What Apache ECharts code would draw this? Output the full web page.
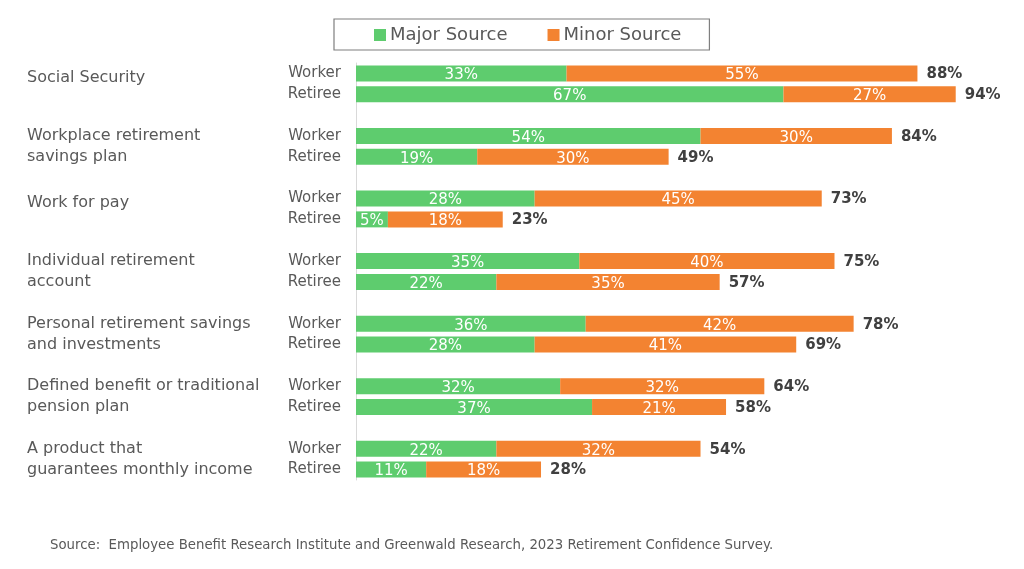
<!DOCTYPE html>
<html>
<head>
<meta charset="utf-8">
<script src="https://cdn.jsdelivr.net/npm/echarts@6/dist/echarts.min.js"></script>
<style>
  html, body { margin: 0; padding: 0; background: #fff; }
  #chart { width: 1024px; height: 569px; }
</style>
</head>
<body>
<div id="chart"></div>
<script>
const groups = [
  'Social Security',
  'Workplace retirement\nsavings plan',
  'Work for pay',
  'Individual retirement\naccount',
  'Personal retirement savings\nand investments',
  'Defined benefit or traditional\npension plan',
  'A product that\nguarantees monthly income'
];
const rowNames = ['Worker', 'Retiree'];
const workerMajor = [33, 54, 28, 35, 36, 32, 22];
const workerMinor = [55, 30, 45, 40, 42, 32, 32];
const workerTotal = [88, 84, 73, 75, 78, 64, 54];
const retireeMajor = [67, 19, 5, 22, 28, 37, 11];
const retireeMinor = [27, 30, 18, 35, 41, 21, 18];
const retireeTotal = [94, 49, 23, 57, 69, 58, 28];

const GREEN = '#5ECC6E';
const ORANGE = '#F38331';
const GRAY = '#595959';
const FONT = 'DejaVu Sans';

// one row per Worker / Retiree, one blank row between groups
const cats = [], major = [], minor = [], total = [], ends = [];
groups.forEach((g, i) => {
  cats.push(rowNames[0], rowNames[1]);
  major.push(workerMajor[i], retireeMajor[i]);
  minor.push(workerMinor[i], retireeMinor[i]);
  total.push(workerTotal[i], retireeTotal[i]);
  ends.push(0, 0);
  if (i < groups.length - 1) {
    cats.push('');
    major.push('-');
    minor.push('-');
    total.push('-');
    ends.push('-');
  }
});

const slot = 417 / cats.length * 3;

const chart = echarts.init(document.getElementById('chart'));

const inLabel = {
  show: true,
  position: 'inside',
  color: '#fff',
  fontFamily: FONT,
  fontSize: 15,
  offset: [0, 2],
  formatter: (p) => p.value + '%'
};

const option = {
  animation: false,
  title: {
    text: 'Source:  Employee Benefit Research Institute and Greenwald Research, 2023 Retirement Confidence Survey.',
    left: 50,
    top: 539,
    padding: 0,
    textStyle: { fontFamily: FONT, fontSize: 13.3, fontWeight: 'normal', color: GRAY }
  },
  legend: {
    data: ['Major Source', 'Minor Source'],
    left: 334,
    top: 19,
    padding: [7, 28, 6, 40],
    itemGap: 40,
    itemWidth: 12,
    itemHeight: 12,
    itemStyle: { borderWidth: 0 },
    icon: 'rect',
    borderColor: '#7f7f7f',
    borderWidth: 1.2,
    textStyle: { fontFamily: FONT, fontSize: 18, color: GRAY, padding: [0, 0, 0, -1] }
  },
  grid: [
    { left: 356, width: 638, top: 63, height: 417 },
    { left: 20, width: 7, top: 63 - slot / 6, height: slot * groups.length }
  ],
  xAxis: [
    { type: 'value', gridIndex: 0, min: 0, max: 100, show: false },
    { type: 'value', gridIndex: 1, show: false }
  ],
  yAxis: [
    {
      type: 'category',
      gridIndex: 0,
      inverse: true,
      data: cats,
      axisLine: { show: true, lineStyle: { color: '#d9d9d9', width: 1 } },
      axisTick: { show: false },
      axisLabel: { margin: 15, color: GRAY, fontFamily: FONT, fontSize: 15 }
    },
    {
      type: 'category',
      gridIndex: 1,
      inverse: true,
      position: 'right',
      data: groups,
      axisLine: { show: false },
      axisTick: { show: false },
      axisLabel: {
        margin: 0,
        align: 'left',
        color: GRAY,
        fontFamily: FONT,
        fontSize: 16,
        lineHeight: 21,
        formatter: (v) => v.indexOf('\n') < 0 ? '{one|' + v + '}' : v,
        rich: {
          one: { fontFamily: FONT, fontSize: 16, color: GRAY, padding: [0, 0, 12, 0] }
        }
      }
    }
  ],
  series: [
    {
      name: 'Major Source',
      type: 'bar',
      stack: 'src',
      barWidth: 16,
      data: major,
      itemStyle: { color: GREEN },
      label: inLabel
    },
    {
      name: 'Minor Source',
      type: 'bar',
      stack: 'src',
      barWidth: 16,
      data: minor,
      itemStyle: { color: ORANGE },
      label: inLabel
    },
    {
      // zero-width end cap carrying the total label
      name: 'Total',
      type: 'bar',
      stack: 'src',
      barWidth: 16,
      data: ends,
      silent: true,
      itemStyle: { color: 'rgba(0,0,0,0)' },
      label: {
        show: true,
        position: 'right',
        distance: 9,
        offset: [0, 1],
        color: '#404040',
        fontFamily: FONT,
        fontSize: 15,
        fontWeight: 'bold',
        formatter: (p) => total[p.dataIndex] + '%'
      }
    }
  ]
};

chart.setOption(option);
</script>
</body>
</html>
